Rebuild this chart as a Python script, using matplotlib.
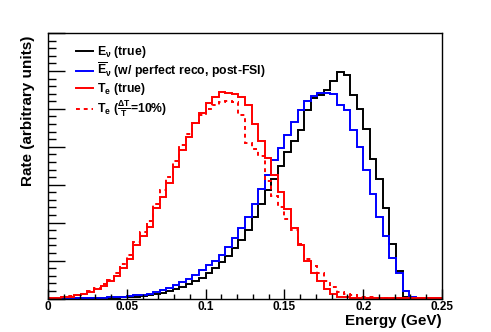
import numpy as np
import matplotlib
matplotlib.use("Agg")
import matplotlib.pyplot as plt
from matplotlib.ticker import MultipleLocator, FuncFormatter

plt.rcParams["font.family"] = ["Liberation Sans", "DejaVu Sans"]
plt.rcParams["font.weight"] = "bold"
plt.rcParams["mathtext.fontset"] = "custom"
plt.rcParams["mathtext.rm"] = "Liberation Sans:bold"
plt.rcParams["mathtext.it"] = "Liberation Sans:bold"
plt.rcParams["mathtext.bf"] = "Liberation Sans:bold"
plt.rcParams["mathtext.default"] = "rm"

# 60 bins from 0 to 0.25 GeV
edges = np.linspace(0, 0.25, 61)

# E_nu (true)
e_true = [0, 0, 0, 0, 0.005, 0.005, 0.01, 0.01, 0.015, 0.02,
          0.02, 0.03, 0.04, 0.05, 0.07, 0.09, 0.12, 0.15, 0.19, 0.24,
          0.30, 0.37, 0.45, 0.55, 0.67, 0.80, 0.95, 1.12, 1.32, 1.55,
          1.80, 2.15, 2.50, 2.85, 3.15, 3.50, 3.85, 4.15, 4.44, 4.97,
          5.29, 5.36, 5.49, 5.73, 5.97, 5.88, 5.36, 5.00, 4.48, 3.69,
          3.16, 2.39, 1.44, 0.72, 0.04, 0.02, 0.02, 0.02, 0.01, 0.01]

# E_nu bar (perfect reco, post-FSI)
e_reco = [0, 0, 0, 0.005, 0.005, 0.01, 0.01, 0.015, 0.02, 0.03,
          0.04, 0.05, 0.06, 0.08, 0.10, 0.13, 0.17, 0.22, 0.28, 0.35,
          0.43, 0.52, 0.63, 0.75, 0.88, 1.00, 1.15, 1.37, 1.60, 1.85,
          2.15, 2.50, 2.90, 3.26, 3.65, 3.96, 4.31, 4.66, 4.97, 5.21,
          5.34, 5.43, 5.43, 5.38, 5.09, 4.96, 4.43, 3.99, 3.38, 2.76,
          2.15, 1.65, 1.07, 0.68, 0.19, 0.03, 0.02, 0.02, 0.01, 0.01]

# T_e (true)
te_true = [0.01, 0.02, 0.03, 0.05, 0.08, 0.12, 0.17, 0.24, 0.33, 0.45,
           0.60, 0.80, 1.03, 1.41, 1.65, 1.89, 2.38, 2.68, 3.04, 3.48,
           3.92, 4.25, 4.62, 4.90, 5.15, 5.32, 5.44, 5.42, 5.38, 5.32,
           5.10, 4.60, 4.15, 3.70, 3.25, 2.80, 2.35, 1.85, 1.40, 1.00,
           0.68, 0.45, 0.25, 0.12, 0.05, 0.03, 0.02, 0.02, 0.01, 0.01,
           0.01, 0.01, 0.01, 0.01, 0.01, 0.01, 0.01, 0.01, 0.01, 0.01]

# T_e smeared (dT/T = 10%)
te_smear = [0.01, 0.02, 0.04, 0.06, 0.09, 0.13, 0.19, 0.27, 0.37, 0.50,
            0.68, 0.90, 1.15, 1.50, 1.75, 2.05, 2.50, 2.85, 3.20, 3.62,
            4.05, 4.35, 4.62, 4.85, 5.00, 5.10, 5.17, 5.20, 5.17, 4.85,
            4.10, 3.95, 3.75, 3.10, 2.70, 2.40, 2.10, 1.80, 1.45, 1.05,
            0.85, 0.67, 0.45, 0.30, 0.18, 0.12, 0.08, 0.05, 0.04, 0.03,
            0.02, 0.02, 0.01, 0.01, 0.01, 0.01, 0.01, 0.01, 0.01, 0.01]

fig = plt.figure(figsize=(4.91, 3.32), dpi=100)
ax = fig.add_axes([48 / 491, 1 - 298.5 / 332, (442 - 48) / 491, (298.5 - 33) / 332])

ax.stairs(e_true, edges, color="black", lw=1.4, label=r"E$_\nu$ (true)")
ax.stairs(e_reco, edges, color="#0000ff", lw=1.4,
          label=r"$\overline{E}_\nu$ (w/ perfect reco, post-FSI)")
ax.stairs(te_true, edges, color="#ff0000", lw=1.4, label=r"T$_e$ (true)")
ax.stairs(te_smear, edges, color="#ff0000", lw=1.4, ls=(0, (2, 2)),
          label=r"T$_e$ ($\frac{\Delta T}{T}$=10%)")

ax.set_xlim(0, 0.25)
ax.set_ylim(0, 7)
ax.xaxis.set_major_locator(MultipleLocator(0.05))
ax.xaxis.set_minor_locator(MultipleLocator(0.01))
ax.yaxis.set_major_locator(MultipleLocator(1))
ax.yaxis.set_minor_locator(MultipleLocator(0.2))
ax.xaxis.set_major_formatter(FuncFormatter(lambda v, p: "%g" % round(v, 3)))
ax.tick_params(which="both", direction="in", top=False, right=False, width=1)
ax.tick_params(axis="y", labelleft=False)
ax.tick_params(axis="y", which="major", length=12)
ax.tick_params(axis="y", which="minor", length=6)
ax.tick_params(axis="x", which="major", length=7, labelsize=8.5, pad=2)
ax.tick_params(axis="x", which="minor", length=3.5)
for s in ax.spines.values():
    s.set_linewidth(1)

ax.set_xlabel("Energy (GeV)", fontsize=11, fontweight="bold", loc="right")
ax.xaxis.set_label_coords(1.0, -0.058)
ax.set_ylabel("Rate (arbitrary units)", fontsize=11, fontweight="bold", loc="top")
ax.yaxis.set_label_coords(-0.033, 0.99)

ax.legend(loc="upper left", bbox_to_anchor=(0.071, 0.958), frameon=False,
          prop=dict(weight="bold", size=8.8), handlelength=1.4,
          handletextpad=0.3, labelspacing=0.08, borderaxespad=0, borderpad=0)

fig.savefig("out.png", dpi=100)
